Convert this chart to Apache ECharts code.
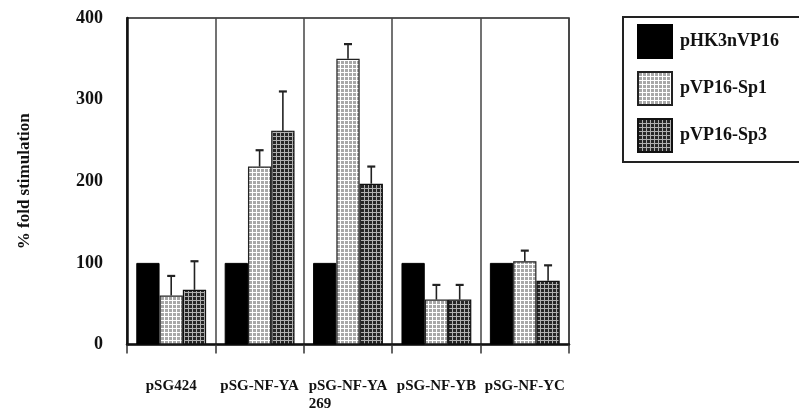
<!DOCTYPE html>
<html>
<head>
<meta charset="utf-8">
<script src="https://cdn.jsdelivr.net/npm/echarts@6/dist/echarts.min.js"></script>
<style>
  html, body { margin: 0; padding: 0; background: #fff; }
  #main { width: 799px; height: 412px; }
</style>
</head>
<body>
<div id="main"></div>
<script>
// data
var categories = ['pSG424', 'pSG-NF-YA', 'pSG-NF-YA\n269', 'pSG-NF-YB', 'pSG-NF-YC'];
var seriesNames = ['pHK3nVP16', 'pVP16-Sp1', 'pVP16-Sp3'];
var hk3 = [100, 100, 100, 100, 100];
var sp1 = [60, 218, 350, 55, 102];
var sp1Err = [84, 238, 368, 73, 115];
var sp3 = [67, 262, 197, 55, 78];
var sp3Err = [102, 310, 218, 73, 97];
var yTicks = [0, 100, 200, 300, 400];

var FONT = '"Liberation Serif", "DejaVu Serif", serif';

function makePattern(bg, line, size) {
    var c = document.createElement('canvas');
    c.width = size; c.height = size;
    var ctx = c.getContext('2d');
    ctx.fillStyle = bg;
    ctx.fillRect(0, 0, size, size);
    ctx.fillStyle = line;
    ctx.fillRect(0, 0, size, 1);
    ctx.fillRect(0, 0, 1, size);
    return c;
}
var lightFill = { image: makePattern('#a8a8a8', '#ffffff', 4), repeat: 'repeat' };
var darkFill = { image: makePattern('#262626', '#b0b0b0', 4), repeat: 'repeat' };

var catGap = 0.21;

// upward error bars with a small cap
function errorItem(seriesPos) {
    return function (params, api) {
        var i = api.value(0);
        var base = api.coord([i, api.value(1)]);
        var top = api.coord([i, api.value(2)]);
        var catW = api.size([1, 0])[0];
        var barW = catW * (1 - catGap) / 3;
        var x = base[0] + (seriesPos - 1) * barW;
        return {
            type: 'group',
            children: [
                { type: 'line', shape: { x1: x, y1: base[1], x2: x, y2: top[1] }, style: { stroke: '#222', lineWidth: 1.6 } },
                { type: 'line', shape: { x1: x - 4, y1: top[1], x2: x + 4, y2: top[1] }, style: { stroke: '#222', lineWidth: 2.2 } }
            ]
        };
    };
}

function errData(vals, errs) {
    return vals.map(function (v, i) { return [i, v, errs[i]]; });
}

var myChart = echarts.init(document.getElementById('main'));

var option = {
    animation: false,
    backgroundColor: '#fff',
    grid: {
        left: 127, right: 230, top: 18, bottom: 65,
        show: true, borderColor: '#222', borderWidth: 1.5
    },
    legend: {
        orient: 'vertical',
        left: 623, top: 17,
        padding: [7, 60, 9, 14],
        borderColor: '#222', borderWidth: 2,
        icon: 'rect',
        itemWidth: 34, itemHeight: 33, itemGap: 12,
        data: seriesNames,
        textStyle: { fontFamily: FONT, fontWeight: 'bold', fontSize: 18, color: '#111', padding: [0, 0, 0, 3] }
    },
    xAxis: {
        type: 'category',
        data: categories,
        axisLine: { lineStyle: { color: '#111', width: 2.5 } },
        axisTick: { show: true, interval: 0, length: 9, lineStyle: { color: '#333', width: 1.5 } },
        splitLine: { show: true, interval: 0, lineStyle: { color: '#444', width: 1.5 } },
        axisLabel: {
            interval: 0, margin: 33,
            formatter: function (v) {
                var parts = v.split('\n');
                if (parts.length > 1) return '{a|' + parts[0] + '}\n{b|' + parts[1] + '}';
                return '{a|' + v + '}';
            },
            rich: {
                a: { fontFamily: FONT, fontWeight: 'bold', fontSize: 15, color: '#111', lineHeight: 18 },
                b: { fontFamily: FONT, fontWeight: 'bold', fontSize: 15, color: '#111', lineHeight: 18, align: 'left' }
            }
        }
    },
    yAxis: {
        type: 'value',
        min: 0, max: 400, interval: 100,
        name: '% fold stimulation',
        nameLocation: 'middle',
        nameGap: 94,
        nameTextStyle: { fontFamily: FONT, fontWeight: 'bold', fontSize: 17, color: '#111' },
        axisLine: { show: true, lineStyle: { color: '#111', width: 2.5 } },
        axisTick: { show: false },
        splitLine: { show: false },
        axisLabel: {
            margin: 24,
            fontFamily: FONT, fontWeight: 'bold', fontSize: 18, color: '#111',
            formatter: function (v) { return yTicks.indexOf(v) >= 0 ? String(v) : ''; }
        }
    },
    series: [
        {
            name: seriesNames[0], type: 'bar', data: hk3,
            barGap: 0, barCategoryGap: (catGap * 100) + '%',
            itemStyle: { color: '#000', borderColor: '#000', borderWidth: 1 }
        },
        {
            name: seriesNames[1], type: 'bar', data: sp1,
            itemStyle: { color: lightFill, borderColor: '#222', borderWidth: 1.2 }
        },
        {
            name: seriesNames[2], type: 'bar', data: sp3,
            itemStyle: { color: darkFill, borderColor: '#111', borderWidth: 1.2 }
        },
        {
            type: 'custom', name: 'err1', data: errData(sp1, sp1Err),
            renderItem: errorItem(1), encode: { x: 0, y: [1, 2] }, z: 5
        },
        {
            type: 'custom', name: 'err2', data: errData(sp3, sp3Err),
            renderItem: errorItem(2), encode: { x: 0, y: [1, 2] }, z: 5
        }
    ]
};

myChart.setOption(option);
</script>
</body>
</html>
